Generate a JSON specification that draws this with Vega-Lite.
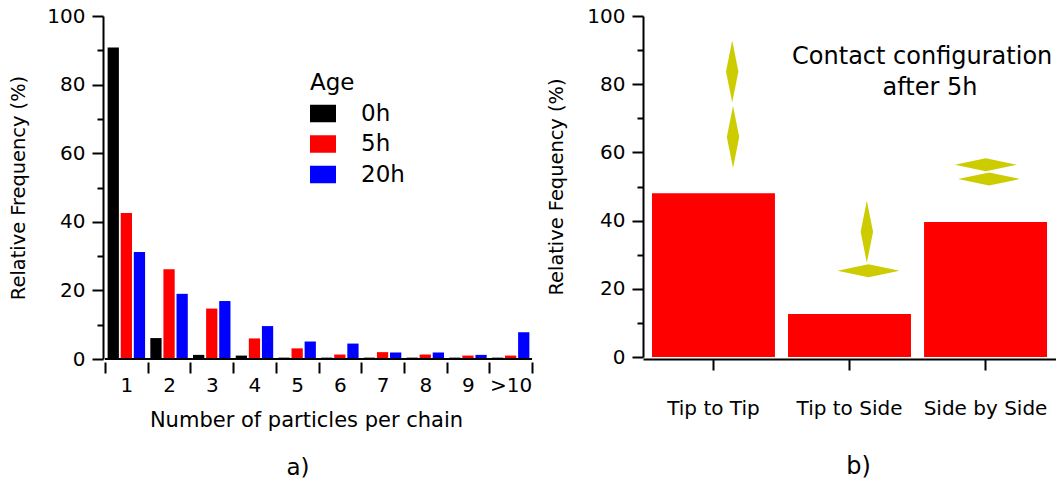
{
"$schema":"https://vega.github.io/schema/vega-lite/v6.json",
"padding":{"left":8,"top":6,"right":0,"bottom":0},
"background":"white",
"spacing":13,
"config":{"view":{"stroke":null},"font":"DejaVu Sans","axis":{"grid":false,"domainColor":"black","tickColor":"black","labelColor":"black","titleColor":"black","labelFont":"DejaVu Sans","titleFont":"DejaVu Sans","labelFontSize":20,"titleFontSize":19.4,"titleFontWeight":"normal","domainWidth":2,"tickWidth":2}},
"datasets":{
"chains":[
{"n":"1","age":"0h","f":90.8},{"n":"1","age":"5h","f":42.6},{"n":"1","age":"20h","f":31.2},
{"n":"2","age":"0h","f":6.1},{"n":"2","age":"5h","f":26.2},{"n":"2","age":"20h","f":19},
{"n":"3","age":"0h","f":1.2},{"n":"3","age":"5h","f":14.7},{"n":"3","age":"20h","f":16.9},
{"n":"4","age":"0h","f":1},{"n":"4","age":"5h","f":6},{"n":"4","age":"20h","f":9.6},
{"n":"5","age":"0h","f":0.4},{"n":"5","age":"5h","f":3.1},{"n":"5","age":"20h","f":5.1},
{"n":"6","age":"0h","f":0.4},{"n":"6","age":"5h","f":1.3},{"n":"6","age":"20h","f":4.5},
{"n":"7","age":"0h","f":0.4},{"n":"7","age":"5h","f":2},{"n":"7","age":"20h","f":1.9},
{"n":"8","age":"0h","f":0.4},{"n":"8","age":"5h","f":1.3},{"n":"8","age":"20h","f":1.9},
{"n":"9","age":"0h","f":0.4},{"n":"9","age":"5h","f":1},{"n":"9","age":"20h","f":1.2},
{"n":">10","age":"0h","f":0.4},{"n":">10","age":"5h","f":1},{"n":">10","age":"20h","f":7.8}],
"contact":[{"c":"Tip to Tip","f":48},{"c":"Tip to Side","f":12.6},{"c":"Side by Side","f":39.6}],
"diamonds":[
{"pos":21.6,"f":83.7,"dir":"vertical"},{"pos":21.8,"f":64.5,"dir":"vertical"},{"pos":54.2,"f":36.7,"dir":"vertical"},
{"pos":54.6,"f":25.3,"dir":"horizontal"},{"pos":83,"f":56.4,"dir":"horizontal"},{"pos":83.8,"f":52.2,"dir":"horizontal"}],
"notes":[{"pos":67.6,"f":88,"t":"Contact configuration"},{"pos":69.5,"f":78.9,"t":"after 5h"},{"pos":52.2,"f":-32.3,"t":"b)"}]
},
"hconcat":[
{"width":427,"height":343,
"resolve":{"axis":{"y":"independent"},"scale":{"x":"independent"}},
"layer":[
{"data":{"name":"chains"},"mark":{"type":"bar"},
"encoding":{
"x":{"field":"n","type":"nominal","sort":null,"scale":{"domain":["1","2","3","4","5","6","7","8","9",">10"],"paddingInner":0,"paddingOuter":0},
"axis":{"title":"Number of particles per chain","domain":false,"tickBand":"extent","labelAngle":0,"offset":3,"tickSize":11,"labelPadding":2,"titlePadding":14,"titleFontSize":21,"titleX":201}},
"xOffset":{"field":"age","type":"nominal","sort":["0h","5h","20h"],"scale":{"paddingInner":0.14,"paddingOuter":0.2}},
"y":{"field":"f","type":"quantitative","scale":{"domain":[0,100],"nice":false},
"axis":{"title":"Relative Frequency (%)","orient":"left","values":[0,20,40,60,80,100],"offset":2,"tickSize":11,"labelPadding":7,"titlePadding":18.7}},
"color":{"field":"age","type":"nominal","scale":{"domain":["0h","5h","20h"],"range":["#000000","#ff0000","#0000ff"]},
"legend":{"title":"Age","orient":"none","legendX":205,"legendY":56,"titleFontSize":23,"titleFontWeight":"normal","titleColor":"black","labelFontSize":23,"labelColor":"black","symbolType":"M-1,-0.68H1V0.68H-1Z","symbolSize":676,"symbolStrokeWidth":0,"symbolOpacity":1,"rowPadding":6.5,"labelOffset":25,"titlePadding":7,"clipHeight":23}}
}},
{"data":{"values":[{"v":0}]},"mark":{"type":"rule","color":"black","strokeWidth":2},
"encoding":{"y":{"field":"v","type":"quantitative","scale":{"domain":[0,100],"nice":false},
"axis":{"title":null,"orient":"left","values":[10,30,50,70,90],"labels":false,"domain":false,"offset":2,"tickSize":6}}}},
{"data":{"values":[{"pos":45.2,"v":-31.7,"t":"a)"}]},"mark":{"type":"text","fontSize":23,"font":"DejaVu Sans","color":"black"},
"encoding":{"x":{"field":"pos","type":"quantitative","scale":{"domain":[0,100],"nice":false},"axis":null},"y":{"field":"v","type":"quantitative","axis":null},"text":{"field":"t"}}}
]},
{"width":413,"height":341,
"resolve":{"axis":{"y":"independent"},"scale":{"x":"independent"}},
"layer":[
{"data":{"name":"contact"},"mark":{"type":"bar","color":"#ff0000"},
"encoding":{
"x":{"field":"c","type":"nominal","sort":null,"scale":{"domain":["Tip to Tip","Tip to Side","Side by Side"],"paddingInner":0.096,"paddingOuter":0.066},
"axis":{"title":null,"labelAngle":0,"offset":2,"tickSize":11,"labelPadding":28}},
"y":{"field":"f","type":"quantitative","scale":{"domain":[0,100],"nice":false},
"axis":{"title":"Relative Fequency (%)","orient":"left","values":[0,20,40,60,80,100],"tickSize":11,"labelPadding":7,"titlePadding":20.5}}
}},
{"data":{"name":"contact"},"transform":[{"filter":"datum.f<0"}],"mark":{"type":"rule"},
"encoding":{"y":{"field":"f","type":"quantitative","scale":{"domain":[0,100],"nice":false},
"axis":{"title":null,"orient":"left","values":[10,30,50,70,90],"labels":false,"domain":false,"tickSize":6}}}},
{"data":{"name":"diamonds"},"mark":{"type":"point","filled":true,"opacity":1,"color":"#cccc00","size":3844},
"encoding":{
"x":{"field":"pos","type":"quantitative","scale":{"domain":[0,100],"nice":false},"axis":null},
"y":{"field":"f","type":"quantitative","axis":null},
"shape":{"field":"dir","type":"nominal","scale":{"domain":["vertical","horizontal"],"range":["M0,-1L0.2,0L0,1L-0.2,0Z","M-1,0L0,-0.21L1,0L0,0.21Z"]},"legend":null}
}},
{"data":{"name":"notes"},"mark":{"type":"text","fontSize":24,"font":"DejaVu Sans","color":"black"},
"encoding":{
"x":{"field":"pos","type":"quantitative","scale":{"domain":[0,100],"nice":false},"axis":null},
"y":{"field":"f","type":"quantitative","axis":null},
"text":{"field":"t"}
}}
]}
]
}
